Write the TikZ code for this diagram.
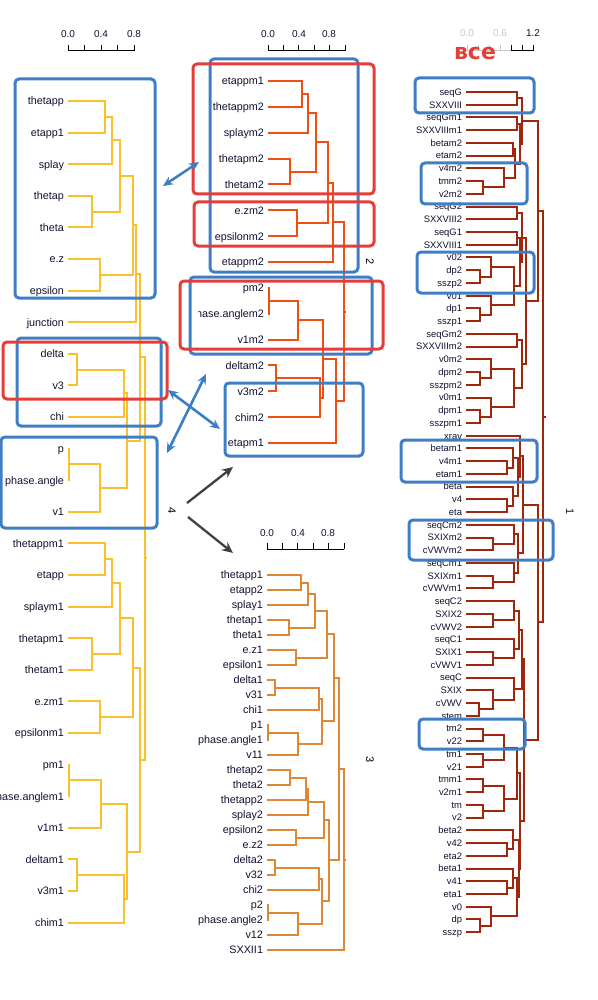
\documentclass[tikz,border=0pt]{standalone}
\usepackage{fontspec}
\setmainfont{Liberation Sans}
\newfontfamily\handfont{DejaVu Sans}
\usetikzlibrary{calc,arrows.meta}

\definecolor{treeL}{RGB}{251,193,45}
\definecolor{treeM}{RGB}{236,80,20}
\definecolor{treeB}{RGB}{222,135,52}
\definecolor{treeR}{RGB}{160,38,12}
\definecolor{boxblue}{RGB}{61,126,196}
\definecolor{boxred}{RGB}{229,62,56}
\definecolor{labtxt}{RGB}{16,16,48}
\definecolor{fadegray}{RGB}{200,200,200}

\tikzset{
  leaf/.style={anchor=east,inner xsep=2pt,outer xsep=2pt,inner ysep=0pt,outer ysep=0pt,
    text height=7.7pt,text depth=0pt,text=labtxt,font=\fontsize{10.8}{12}\selectfont},
  leafR/.style={leaf,text height=6.7pt,font=\fontsize{9.4}{11}\selectfont},
  bluebox/.style={draw=boxblue,line width=3pt,rounded corners=4pt},
  redbox/.style={draw=boxred,line width=3pt,rounded corners=4pt},
  link/.style={boxblue,line width=2.6pt,{Stealth[length=10pt,width=9pt]}-{Stealth[length=10pt,width=9pt]}},
  pointer/.style={black!75,line width=2.3pt,-{Stealth[length=11pt,width=10pt]}},
  axis/.style={line width=1pt},
  ticklab/.style={font=\fontsize{10}{12}\selectfont,text=labtxt},
  clnum/.style={rotate=-90,font=\fontsize{11}{12}\selectfont}
}

% one merge of a dendrogram: name, height (x), two children
\newcommand{\mrg}[4]{%
  \coordinate (h#1) at (#2,0);
  \draw (#3) -- (#3 -| h#1) -- (#4 -| h#1) -- (#4);
  \coordinate (#1) at ($(#3 -| h#1)!.5!(#4 -| h#1)$);}

\begin{document}
\begin{tikzpicture}[x=1pt,y=-1pt]
\useasboundingbox (0,0) rectangle (597,1000);

% scales
\draw[axis] (68,51) -- (134,51);
\foreach \k in {0,...,4} \draw[axis] (68+16.5*\k,51) -- (68+16.5*\k,45);
\node[ticklab] (sL0) at (68,34) {0.0};
\node[ticklab] (sL4) at (101,34) {0.4};
\node[ticklab] (sL8) at (134,34) {0.8};

\draw[axis] (268,51) -- (345,51);
\foreach \k in {0,...,5} \draw[axis] (268+15.4*\k,51) -- (268+15.4*\k,45);
\node[ticklab] (sM0) at (268,34) {0.0};
\node[ticklab] (sM4) at (299,34) {0.4};
\node[ticklab] (sM8) at (329,34) {0.8};

\draw[axis] (267,549) -- (344,549);
\foreach \k in {0,...,5} \draw[axis] (267+15.4*\k,549) -- (267+15.4*\k,543);
\node[ticklab] (sB0) at (267,533) {0.0};
\node[ticklab] (sB4) at (298,533) {0.4};
\node[ticklab] (sB8) at (328,533) {0.8};

\draw[axis,fadegray] (467,51) -- (511,51);
\foreach \k in {0,...,3} \draw[axis,fadegray] (467+11*\k,51) -- (467+11*\k,45);
\draw[axis] (511,51) -- (533,51);
\foreach \k in {4,...,6} \draw[axis] (467+11*\k,51) -- (467+11*\k,45);
\node[ticklab,text=fadegray] (sR0) at (467,33) {0.0};
\node[ticklab,text=fadegray] (sR6) at (500,33) {0.6};
\node[ticklab] (sR12) at (533,33) {1.2};
\node[text=boxred,font=\handfont\bfseries\fontsize{22}{22}\selectfont] (vse) at (475,53) {все};

% left tree
\foreach \lab [count=\i] in {thetapp,etapp1,splay,thetap,theta,e.z,epsilon,junction,delta,v3,chi,p,phase.angle,v1,thetappm1,etapp,splaym1,thetapm1,thetam1,e.zm1,epsilonm1,pm1,phase.anglem1,v1m1,deltam1,v3m1,chim1}
  \node[leaf] (L\i) at (68,{101+31.6*(\i-1)}) {\lab};
\begin{scope}[treeL,line width=2pt]
\mrg{a1}{105}{L1.east}{L2.east}
\mrg{a2}{112}{a1}{L3.east}
\mrg{a3}{92}{L4.east}{L5.east}
\mrg{a4}{120}{a2}{a3}
\mrg{a5}{100}{L6.east}{L7.east}
\mrg{a6}{133}{a4}{a5}
\mrg{a7}{136}{a6}{L8.east}
\mrg{a8}{77}{L9.east}{L10.east}
\mrg{a9}{124}{a8}{L11.east}
\mrg{a10}{69}{L12.east}{L13.east}
\mrg{a11}{100}{a10}{L14.east}
\mrg{a12}{127}{a9}{a11}
\mrg{a13}{140}{a7}{a12}
\mrg{b1}{105}{L15.east}{L16.east}
\mrg{b2}{112}{b1}{L17.east}
\mrg{b3}{92}{L18.east}{L19.east}
\mrg{b4}{120}{b2}{b3}
\mrg{b5}{100}{L20.east}{L21.east}
\mrg{b6}{133}{b4}{b5}
\mrg{b7}{69}{L22.east}{L23.east}
\mrg{b8}{101}{b7}{L24.east}
\mrg{b9}{77}{L25.east}{L26.east}
\mrg{b10}{124}{b9}{L27.east}
\mrg{b11}{127}{b8}{b10}
\mrg{b12}{140}{b6}{b11}
\mrg{a14}{145}{a13}{b12}
\draw (a14) -- ++(1.5,0);
\end{scope}

% middle trees, labels cut at the plot edge
\begin{scope}
\clip (198,0) rectangle (400,1000);
\foreach \lab [count=\i] in {etappm1,thetappm2,splaym2,thetapm2,thetam2,e.zm2,epsilonm2,etappm2,pm2,phase.anglem2,v1m2,deltam2,v3m2,chim2,etapm1}
  \node[leaf] (M\i) at (268,{81+25.86*(\i-1)}) {\lab};
\foreach \lab [count=\i] in {thetapp1,etapp2,splay1,thetap1,theta1,e.z1,epsilon1,delta1,v31,chi1,p1,phase.angle1,v11,thetap2,theta2,thetapp2,splay2,epsilon2,e.z2,delta2,v32,chi2,p2,phase.angle2,v12,SXXII1}
  \node[leaf] (B\i) at (267,{575+15*(\i-1)}) {\lab};
\end{scope}

\begin{scope}[treeM,line width=2pt]
\mrg{m1}{302}{M1.east}{M2.east}
\mrg{m2}{308}{m1}{M3.east}
\mrg{m3}{290}{M4.east}{M5.east}
\mrg{m4}{316}{m2}{m3}
\mrg{m5}{297}{M6.east}{M7.east}
\mrg{m6}{328}{m4}{m5}
\mrg{m7}{333}{m6}{M8.east}
\mrg{m8}{268.6}{M9.east}{M10.east}
\mrg{m9}{298}{m8}{M11.east}
\mrg{m10}{276}{M12.east}{M13.east}
\mrg{m11}{320}{m10}{M14.east}
\mrg{m12}{323}{m9}{m11}
\mrg{m13}{336}{m12}{M15.east}
\mrg{m14}{344}{m7}{m13}
\draw (m14) -- ++(1.5,0);
\end{scope}

\begin{scope}[treeB,line width=2pt]
\mrg{n1}{301}{B1.east}{B2.east}
\mrg{n2}{308}{n1}{B3.east}
\mrg{n3}{289}{B4.east}{B5.east}
\mrg{n4}{315}{n2}{n3}
\mrg{n5}{296}{B6.east}{B7.east}
\mrg{n6}{327}{n4}{n5}
\mrg{n7}{275}{B8.east}{B9.east}
\mrg{n8}{319}{n7}{B10.east}
\mrg{n9}{268}{B11.east}{B12.east}
\mrg{n10}{298}{n9}{B13.east}
\mrg{n11}{322}{n8}{n10}
\mrg{n12}{334}{n6}{n11}
\mrg{n13}{290}{B14.east}{B15.east}
\mrg{n14}{306}{n13}{B16.east}
\mrg{n15}{308}{n14}{B17.east}
\mrg{n16}{296}{B18.east}{B19.east}
\mrg{n17}{324}{n15}{n16}
\mrg{n18}{275}{B20.east}{B21.east}
\mrg{n19}{319}{n18}{B22.east}
\mrg{n20}{268}{B23.east}{B24.east}
\mrg{n21}{298}{n20}{B25.east}
\mrg{n22}{322}{n19}{n21}
\mrg{n23}{329}{n17}{n22}
\mrg{n24}{339}{n12}{n23}
\mrg{n25}{344}{n24}{B26.east}
\draw (n25) -- ++(1.5,0);
\end{scope}

% right tree
\foreach \lab [count=\i] in {seqG,SXXVIII,seqGm1,SXXVIIIm1,betam2,etam2,v4m2,tmm2,v2m2,seqG2,SXXVIII2,seqG1,SXXVIII1,v02,dp2,sszp2,v01,dp1,sszp1,seqGm2,SXXVIIIm2,v0m2,dpm2,sszpm2,v0m1,dpm1,sszpm1,xrav,betam1,v4m1,etam1,beta,v4,eta,seqCm2,SXIXm2,cVWVm2,seqCm1,SXIXm1,cVWVm1,seqC2,SXIX2,cVWV2,seqC1,SXIX1,cVWV1,seqC,SXIX,cVWV,stem,tm2,v22,tm1,v21,tmm1,v2m1,tm,v2,beta2,v42,eta2,beta1,v41,eta1,v0,dp,sszp}
  \node[leafR] (R\i) at (466,{92+12.73*(\i-1)}) {\lab};
\begin{scope}[treeR,line width=2pt]
\mrg{rp1}{517}{R1.east}{R2.east}
\mrg{rp2}{517}{R3.east}{R4.east}
\mrg{rq1}{513}{R5.east}{R6.east}
\mrg{rq2}{483}{R8.east}{R9.east}
\mrg{rq3}{504}{R7.east}{rq2}
\mrg{rq4}{515}{rq1}{rq3}
\mrg{rd1}{520}{rp2}{rq4}
\mrg{rd2}{522}{rp1}{rd1}
\mrg{rp3}{517}{R10.east}{R11.east}
\mrg{rp4}{517}{R12.east}{R13.east}
\mrg{rv1}{480}{R15.east}{R16.east}
\mrg{rv2}{491}{R14.east}{rv1}
\mrg{rv3}{480}{R18.east}{R19.east}
\mrg{rv4}{491}{R17.east}{rv3}
\mrg{rv5}{514}{rv2}{rv4}
\mrg{rx1}{520}{rp4}{rv5}
\mrg{rx2}{522}{rp3}{rx1}
\mrg{rp5}{517}{R20.east}{R21.east}
\mrg{rw1}{480}{R23.east}{R24.east}
\mrg{rw2}{491}{R22.east}{rw1}
\mrg{rw3}{480}{R26.east}{R27.east}
\mrg{rw4}{491}{R25.east}{rw3}
\mrg{rw5}{514}{rw2}{rw4}
\mrg{rx3}{522}{rp5}{rw5}
\mrg{rx4}{526}{rx2}{rx3}
\mrg{rbb}{538}{rd2}{rx4}
\mrg{ry1}{507}{R30.east}{R31.east}
\mrg{ry2}{513}{R29.east}{ry1}
\mrg{ry3}{507}{R33.east}{R34.east}
\mrg{ry4}{513}{R32.east}{ry3}
\mrg{ry5}{518}{ry2}{ry4}
\mrg{ry6}{520}{R28.east}{ry5}
\mrg{rs1}{493}{R36.east}{R37.east}
\mrg{rs2}{514}{R35.east}{rs1}
\mrg{rs3}{493}{R39.east}{R40.east}
\mrg{rs4}{514}{R38.east}{rs3}
\mrg{rs5}{518}{rs2}{rs4}
\mrg{ry7}{523}{ry6}{rs5}
\mrg{rs6}{493}{R42.east}{R43.east}
\mrg{rs7}{514}{R41.east}{rs6}
\mrg{rs8}{493}{R45.east}{R46.east}
\mrg{rs9}{514}{R44.east}{rs8}
\mrg{rs10}{519}{rs7}{rs9}
\mrg{rs11}{479}{R49.east}{R50.east}
\mrg{rs12}{493}{R48.east}{rs11}
\mrg{rs13}{514}{R47.east}{rs12}
\mrg{rs14}{522}{rs10}{rs13}
\mrg{rt1}{483}{R51.east}{R52.east}
\mrg{rt2}{483}{R53.east}{R54.east}
\mrg{rt3}{504}{rt1}{rt2}
\mrg{rt4}{483}{R55.east}{R56.east}
\mrg{rt5}{483}{R57.east}{R58.east}
\mrg{rt6}{504}{rt4}{rt5}
\mrg{rt7}{517}{rt3}{rt6}
\mrg{ru1}{507}{R60.east}{R61.east}
\mrg{ru2}{513}{R59.east}{ru1}
\mrg{ru3}{507}{R63.east}{R64.east}
\mrg{ru4}{513}{R62.east}{ru3}
\mrg{ru5}{480}{R66.east}{R67.east}
\mrg{ru6}{491}{R65.east}{ru5}
\mrg{ru7}{517}{ru4}{ru6}
\mrg{ru8}{519}{ru2}{ru7}
\mrg{rt8}{520}{rt7}{ru8}
\mrg{rs15}{524}{rs14}{rt8}
\mrg{rcc}{538}{ry7}{rs15}
\mrg{rroot}{543}{rbb}{rcc}
\draw (rroot) -- ++(3,0);
\end{scope}

% cluster numbers
\node[clnum] (c1) at (570,512) [text=labtxt] {1};
\node[clnum] (c2) at (370,262) {2};
\node[clnum] (c3) at (370,760) {3};
\node[clnum] (c4) at (172,511) {4};

% boxes
\draw[bluebox] (15,79) rectangle (155,298);
\draw[bluebox] (17,338) rectangle (161,426);
\draw[bluebox] (1,437) rectangle (157,528);
\draw[bluebox] (210,59) rectangle (358,272);
\draw[bluebox] (190,277) rectangle (372,354);
\draw[bluebox] (225,383) rectangle (363,456);
\draw[bluebox] (415,78) rectangle (534,113);
\draw[bluebox] (421,163) rectangle (527,204);
\draw[bluebox] (417,252) rectangle (534,293);
\draw[bluebox] (401,440) rectangle (537,482);
\draw[bluebox] (409,520) rectangle (553,560);
\draw[bluebox] (419,719) rectangle (525,749);
\draw[redbox] (3,342) rectangle (167,399);
\draw[redbox] (193,64) rectangle (374,194);
\draw[redbox] (194,202) rectangle (374,246);
\draw[redbox] (180,281) rectangle (383,349);

% links between boxes
\coordinate (lkA1) at (163,186);
\coordinate (lkA2) at (199,162);
\coordinate (lkB1) at (168,390);
\coordinate (lkB2) at (220,429);
\coordinate (lkC1) at (206,374);
\coordinate (lkC2) at (167,453);
\draw[link] (lkA1) -- (lkA2);
\draw[link] (lkB1) -- (lkB2);
\draw[link] (lkC1) -- (lkC2);
\coordinate (pt0a) at (187,503);
\coordinate (pt0b) at (188,517);
\coordinate (pt1) at (233,467);
\coordinate (pt2) at (233,553);
\draw[pointer] (pt0a) -- (pt1);
\draw[pointer] (pt0b) -- (pt2);
\end{tikzpicture}
\end{document}
